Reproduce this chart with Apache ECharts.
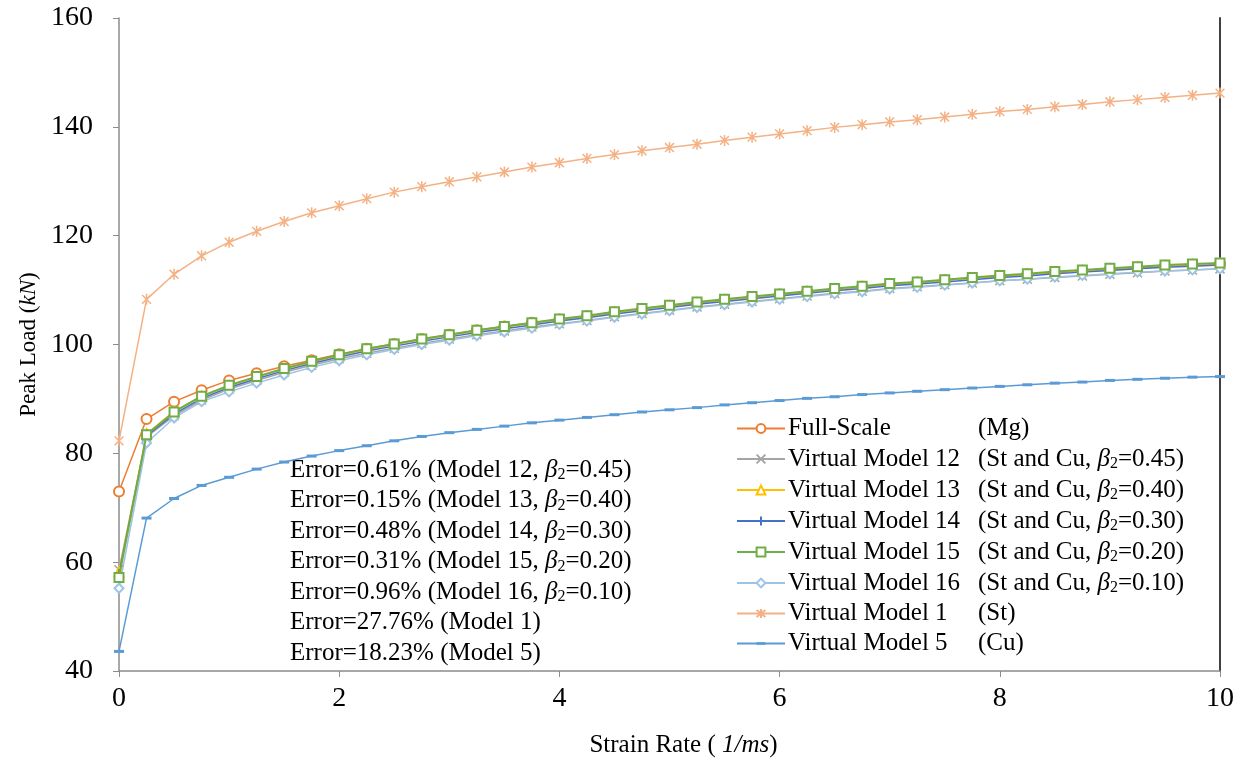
<!DOCTYPE html>
<html>
<head>
<meta charset="utf-8">
<script src="https://cdn.jsdelivr.net/npm/echarts@6/dist/echarts.min.js"></script>
<style>
  html, body { margin: 0; padding: 0; background: #fff; }
  #chart { width: 1245px; height: 767px; }
</style>
</head>
<body>
<div id="chart"></div>
<script>
// strain rate (1/ms)
const strainRate = [0, 0.25, 0.5, 0.75, 1, 1.25, 1.5, 1.75, 2, 2.25, 2.5, 2.75, 3, 3.25, 3.5, 3.75,
  4, 4.25, 4.5, 4.75, 5, 5.25, 5.5, 5.75, 6, 6.25, 6.5, 6.75, 7, 7.25, 7.5, 7.75,
  8, 8.25, 8.5, 8.75, 9, 9.25, 9.5, 9.75, 10]

// peak load (kN)
const fullScale = [73.0, 86.3, 89.5, 91.6, 93.4, 94.7, 96.0, 97.1, 98.2, 99.2, 100.1, 101.0, 101.8, 102.6, 103.3, 104.0,
  104.6, 105.2, 105.9, 106.5, 107.1, 107.6, 108.2, 108.7, 109.2, 109.7, 110.1, 110.6, 111.0, 111.4, 111.8, 112.2,
  112.5, 112.9, 113.2, 113.5, 113.8, 114.1, 114.4, 114.6, 114.8]
const model12 = [58.6, 83.0, 86.9, 89.8, 91.8, 93.4, 94.9, 96.2, 97.4, 98.4, 99.3, 100.2, 101.0, 101.8, 102.5, 103.2,
  103.8, 104.4, 105.1, 105.7, 106.3, 106.9, 107.4, 107.9, 108.4, 108.9, 109.4, 109.8, 110.3, 110.6, 111.0, 111.3,
  111.7, 112.0, 112.3, 112.6, 112.9, 113.2, 113.5, 113.7, 113.9]
const model13 = [58.2, 83.6, 87.7, 90.5, 92.4, 94.0, 95.5, 96.8, 98.0, 99.1, 100.0, 100.9, 101.7, 102.5, 103.2, 103.9,
  104.6, 105.2, 105.9, 106.5, 107.1, 107.7, 108.2, 108.7, 109.2, 109.7, 110.2, 110.6, 111.1, 111.4, 111.8, 112.2,
  112.6, 112.9, 113.3, 113.6, 113.9, 114.2, 114.5, 114.7, 114.9]
const model14 = [57.8, 83.2, 87.2, 90.1, 92.1, 93.7, 95.2, 96.5, 97.7, 98.8, 99.7, 100.6, 101.4, 102.2, 102.9, 103.6,
  104.3, 104.9, 105.6, 106.2, 106.8, 107.4, 107.9, 108.4, 108.9, 109.4, 109.9, 110.3, 110.8, 111.1, 111.5, 111.9,
  112.3, 112.6, 113.0, 113.3, 113.6, 113.9, 114.2, 114.4, 114.6]
const model15 = [57.2, 83.4, 87.6, 90.5, 92.5, 94.1, 95.6, 96.9, 98.1, 99.2, 100.1, 101.0, 101.8, 102.6, 103.3, 104.0,
  104.7, 105.3, 106.0, 106.6, 107.2, 107.8, 108.3, 108.8, 109.3, 109.8, 110.3, 110.7, 111.2, 111.5, 111.9, 112.3,
  112.7, 113.0, 113.4, 113.7, 114.0, 114.3, 114.6, 114.8, 115.0]
const model16 = [55.2, 81.9, 86.5, 89.5, 91.3, 92.9, 94.4, 95.8, 97.0, 98.1, 99.1, 100.0, 100.8, 101.6, 102.3, 103.0,
  103.7, 104.3, 105.0, 105.6, 106.2, 106.8, 107.3, 107.8, 108.3, 108.8, 109.3, 109.7, 110.2, 110.5, 110.9, 111.3,
  111.7, 112.0, 112.4, 112.7, 113.0, 113.3, 113.5, 113.7, 113.9]
const model1 = [82.3, 108.3, 112.9, 116.3, 118.8, 120.8, 122.6, 124.2, 125.5, 126.8, 128.0, 129.0, 129.9, 130.8, 131.7, 132.6,
  133.4, 134.2, 134.9, 135.6, 136.2, 136.8, 137.5, 138.1, 138.7, 139.3, 139.9, 140.4, 140.9, 141.3, 141.8, 142.3,
  142.8, 143.2, 143.7, 144.1, 144.6, 145.0, 145.4, 145.8, 146.2]
const model5 = [43.6, 68.1, 71.7, 74.1, 75.6, 77.1, 78.4, 79.5, 80.5, 81.4, 82.3, 83.1, 83.8, 84.4, 85.0, 85.6,
  86.1, 86.6, 87.1, 87.6, 88.0, 88.4, 88.9, 89.3, 89.7, 90.1, 90.4, 90.8, 91.1, 91.4, 91.7, 92.0,
  92.3, 92.6, 92.9, 93.1, 93.4, 93.6, 93.8, 94.0, 94.1]

const seriesNames = ['Full-Scale', 'Virtual Model 12', 'Virtual Model 13', 'Virtual Model 14',
  'Virtual Model 15', 'Virtual Model 16', 'Virtual Model 1', 'Virtual Model 5']
const seriesNotes = ['(Mg)', '(St and Cu, ', '(St and Cu, ', '(St and Cu, ',
  '(St and Cu, ', '(St and Cu, ', '(St)', '(Cu)']
const seriesBetas = ['', '0.45', '0.40', '0.30', '0.20', '0.10', '', '']

const errorValues = ['0.61%', '0.15%', '0.48%', '0.31%', '0.96%', '27.76%', '18.23%']
const errorModels = ['12', '13', '14', '15', '16', '1', '5']
const errorBetas = ['0.45', '0.40', '0.30', '0.20', '0.10', '', '']

const xTicks = [0, 2, 4, 6, 8, 10]
const yTicks = [40, 60, 80, 100, 120, 140, 160]

const FONT = '"Liberation Serif", "Times New Roman", serif'

const pathX = 'path://M0,0L10,10M10,0L0,10'
const pathPlus = 'path://M5,0L5,10M0,5L10,5'
const pathStar = 'path://M5,0L5,10M1,1L9,9M9,1L1,9'
// zero-length corner points keep a square box so the dash stays flat
const pathDash = 'path://M0,0L0,0M10,10L10,10M0,3.5L10,3.5L10,6.5L0,6.5Z'

const styles = [
  { color: '#ED7D31', symbol: 'emptyCircle', size: 10, width: 1.5 },
  { color: '#A5A5A5', symbol: pathX, size: 9, width: 1.5, stroke: true },
  { color: '#FFC000', symbol: 'emptyTriangle', size: 9, width: 1.5 },
  { color: '#4472C4', symbol: pathPlus, size: 10, width: 1.5, stroke: true },
  { color: '#70AD47', symbol: 'emptyRect', size: 9, width: 2 },
  { color: '#9DC3E6', symbol: 'emptyDiamond', size: 9, width: 1.5 },
  { color: '#F4B183', symbol: pathStar, size: 11, width: 1.5, stroke: true },
  { color: '#5B9BD5', symbol: pathDash, size: 10, width: 1.5 },
]

const values = [fullScale, model12, model13, model14, model15, model16, model1, model5]

const series = values.map((vals, i) => {
  const s = styles[i]
  return {
    name: seriesNames[i],
    type: 'line',
    data: strainRate.map((x, k) => [x, vals[k]]),
    symbol: s.symbol,
    symbolSize: s.size,
    symbolKeepAspect: true,
    showAllSymbol: true,
    color: s.color,
    lineStyle: { color: s.color, width: s.width },
    itemStyle: s.stroke
      ? { color: s.color, borderColor: s.color, borderWidth: 1.5 }
      : { color: s.color, borderWidth: 1.3 },
    z: i === 4 ? 5 : 3,
    animation: false,
  }
})

const legendRich = {
  n: { width: 190, fontSize: 25, fontFamily: FONT, color: '#000', lineHeight: 24 },
  p: { fontSize: 25, fontFamily: FONT, color: '#000', lineHeight: 24 },
  b: { fontSize: 25, fontFamily: FONT, fontStyle: 'italic', color: '#000', lineHeight: 24 },
  s: { fontSize: 16, fontFamily: FONT, color: '#000', padding: [10, 0, 0, 0], lineHeight: 24 },
}

const errorLines = errorValues.map((v, i) => {
  if (errorBetas[i]) {
    return `{t|Error=${v} (Model ${errorModels[i]}, }{b|β}{s|2}{t|=${errorBetas[i]})}`
  }
  return `{t|Error=${v} (Model ${errorModels[i]})}`
})

const chart = echarts.init(document.getElementById('chart'))
chart.setOption({
  animation: false,
  backgroundColor: '#fff',
  grid: { left: 119, right: 25, top: 18, bottom: 96 },
  xAxis: {
    type: 'value',
    min: 0,
    max: 10,
    interval: 2,
    name: '{t|Strain Rate (}{i| 1/ms}{t|)}',
    nameLocation: 'middle',
    nameGap: 62,
    nameTextStyle: {
      padding: [0, 0, 0, 28],
      rich: {
        t: { fontSize: 25, fontFamily: FONT, color: '#000' },
        i: { fontSize: 25, fontFamily: FONT, fontStyle: 'italic', color: '#000' },
      },
    },
    axisLine: { lineStyle: { color: '#8c8c8c', width: 1.5 } },
    axisTick: { show: true, inside: false, length: 6, lineStyle: { color: '#8c8c8c' } },
    axisLabel: {
      fontSize: 28, fontFamily: FONT, color: '#000', margin: 14,
      formatter: v => xTicks.includes(v) ? String(v) : '',
    },
    splitLine: { show: false },
  },
  yAxis: [{
    type: 'value',
    min: 40,
    max: 160,
    interval: 20,
    name: '{t|Peak Load (}{i|kN}{t|)}',
    nameLocation: 'middle',
    nameGap: 77,
    nameTextStyle: {
      rich: {
        t: { fontSize: 23, fontFamily: FONT, color: '#000' },
        i: { fontSize: 23, fontFamily: FONT, fontStyle: 'italic', color: '#000' },
      },
    },
    axisLine: { show: true, lineStyle: { color: '#8c8c8c', width: 1.5 } },
    axisTick: { show: true, inside: false, length: 6, lineStyle: { color: '#8c8c8c' } },
    axisLabel: {
      fontSize: 28, fontFamily: FONT, color: '#000', margin: 26,
      formatter: v => yTicks.includes(v) ? String(v) : '',
    },
    splitLine: { show: false },
  }, {
    type: 'value',
    min: 40,
    max: 160,
    interval: 20,
    position: 'right',
    axisLine: { show: true, lineStyle: { color: '#404040', width: 2 } },
    axisTick: { show: false },
    axisLabel: { show: false },
    splitLine: { show: false },
  }],
  legend: {
    orient: 'vertical',
    left: 731,
    top: 411,
    itemWidth: 48,
    itemHeight: 11,
    itemGap: 5,
    data: seriesNames,
    formatter: name => {
      const i = seriesNames.indexOf(name)
      if (seriesBetas[i]) {
        return `{n|${name}}{p|${seriesNotes[i]}}{b|β}{s|2}{p|=${seriesBetas[i]})}`
      }
      return `{n|${name}}{p|${seriesNotes[i]}}`
    },
    textStyle: { rich: legendRich, padding: [0, 0, 0, -2] },
  },
  graphic: [{
    type: 'text',
    left: 290,
    top: 457,
    style: {
      text: errorLines.join('\n'),
      rich: {
        t: { fontSize: 25, fontFamily: FONT, fill: '#000', lineHeight: 30.5 },
        b: { fontSize: 25, fontFamily: FONT, fontStyle: 'italic', fill: '#000', lineHeight: 30.5 },
        s: { fontSize: 16, fontFamily: FONT, fill: '#000', padding: [10, 0, 0, 0], lineHeight: 30.5 },
      },
    },
  }],
  series: series,
})
</script>
</body>
</html>
